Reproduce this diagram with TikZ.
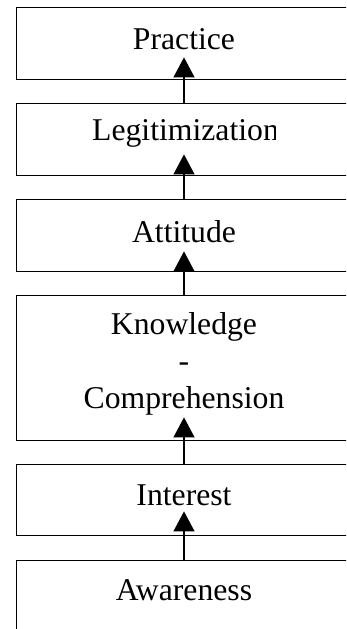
\documentclass[tikz,border=0pt]{standalone}
\usepackage{fontspec}
\setmainfont{Liberation Serif}
\usetikzlibrary{arrows.meta}
\begin{document}
\begin{tikzpicture}[x=1pt,y=-1pt,
  stagebox/.style={draw=black, line width=1.4pt, minimum width=336pt, inner sep=0pt, anchor=north west},
  lbl/.style={font=\fontsize{31.7}{37}\selectfont, inner sep=0pt, anchor=base},
  up/.style={line width=1.1pt, -{Triangle[width=21pt,length=20pt]}}]
\useasboundingbox (0,0) rectangle (346,629);
\clip (0,0) rectangle (346,629);
\node[stagebox, minimum height=72pt] (practice) at (16,7) {};
\node[stagebox, minimum height=72pt] (legit) at (16,103) {};
\node[stagebox, minimum height=72pt] (attitude) at (16,199) {};
\node[stagebox, minimum height=145pt] (knowledge) at (16,295) {};
\node[stagebox, minimum height=71pt] (interest) at (16,464) {};
\node[stagebox, minimum height=72pt] (awareness) at (16,560) {};
\node[lbl] (tpractice) at (184,49) {Practice};
\begin{scope}
\clip (0,0) rectangle (275.5,629);
\node[lbl] (tlegit) at (185.5,140) {Legitimization};
\end{scope}
\node[lbl] (tattitude) at (184,242) {Attitude};
\node[lbl, align=center, anchor=north] (tknow) at (184,312) {Knowledge\\-\\Comprehension};
\node[lbl] (tinterest) at (184,505) {Interest};
\node[lbl] (tawareness) at (184,600) {Awareness};
\draw[up] (legit.north -| tpractice) -- ([yshift=23pt]practice.south -| tpractice);
\draw[up] (attitude.north -| tpractice) -- ([yshift=22pt]legit.south -| tpractice);
\draw[up] (knowledge.north -| tpractice) -- ([yshift=21pt]attitude.south -| tpractice);
\draw[up] (interest.north -| tpractice) -- ([yshift=24pt]knowledge.south -| tpractice);
\draw[up] (awareness.north -| tpractice) -- ([yshift=25pt]interest.south -| tpractice);
\end{tikzpicture}
\end{document}
